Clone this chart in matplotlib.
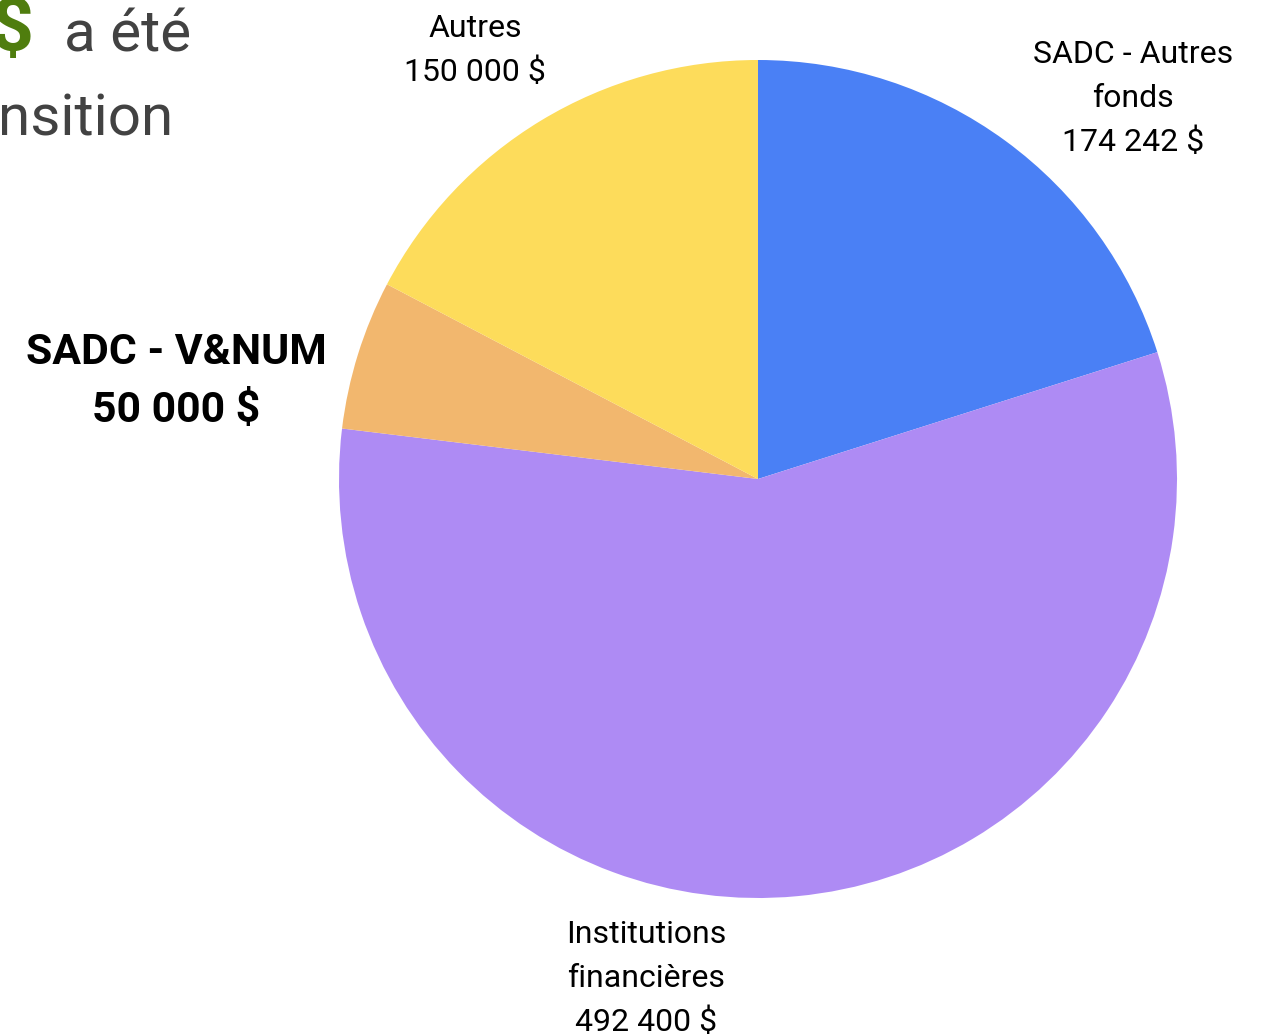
import matplotlib
matplotlib.use("Agg")
from matplotlib import pyplot as plt

# slices, clockwise from 12 o'clock
labels = ["SADC - Autres\nfonds", "Institutions\nfinancières", "SADC - V&NUM", "Autres"]
values = [174242, 492400, 50000, 150000]
colors = ["#4a80f5", "#ae8bf4", "#f2b76e", "#fddc5b"]
bold = [False, False, True, False]


def money(v):
    s = f"{v:,}".replace(",", " ")
    return s + " $"


W, H = 1274, 1036
plt.rcParams['font.family'] = ['Roboto', 'DejaVu Sans']

fig = plt.figure(figsize=(W / 100, H / 100), dpi=100)
ax = fig.add_axes([0, 0, 1, 1])

cx, cy, r = 758, H - 479, 419
ax.pie(values, colors=colors, startangle=90, counterclock=False,
       center=(cx, cy), radius=r, frame=True,
       wedgeprops=dict(linewidth=0))
ax.set_xlim(0, W)
ax.set_ylim(0, H)
ax.set_aspect('equal')
ax.axis('off')

# label anchors (x center, first baseline from top in px, line step)
label_pos = [(1133, 63, 44), (646, 943, 44), (176, 364, 58), (475, 37, 44)]

for lab, v, (x, y0, step), b in zip(labels, values, label_pos, bold):
    lines = lab.split("\n") + [money(v)]
    for i, line in enumerate(lines):
        ax.text(x, H - (y0 + i * step), line, ha='center', va='baseline',
                fontsize=30.8 if b else 23,
                fontweight='bold' if b else 'normal', color='black')

# cropped heading text at top left
ax.text(34, H - 50, "$", ha='right', va='baseline', fontsize=54,
        fontweight='bold', color='#4f7d0e')
ax.text(64, H - 52, "a été", ha='left', va='baseline', fontsize=42, color='#424242')
ax.text(-2, H - 135, "nsition", ha='left', va='baseline', fontsize=42, color='#424242')

fig.savefig("out.png", dpi=100, facecolor='white')
